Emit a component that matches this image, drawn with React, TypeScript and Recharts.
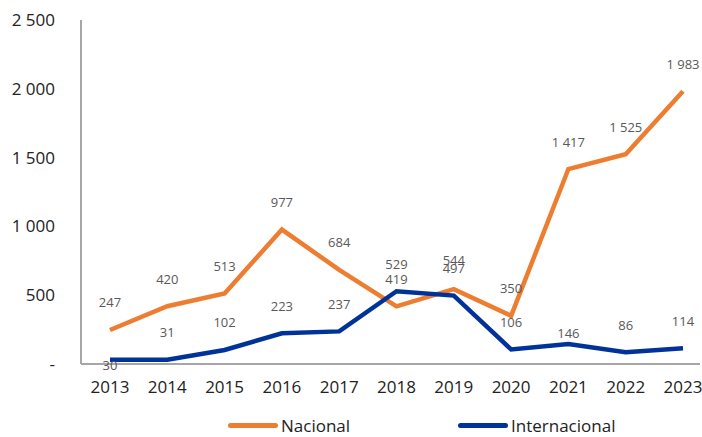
import { LineChart, Line, XAxis, YAxis, Legend, LabelList } from "recharts";

const years = ["2013", "2014", "2015", "2016", "2017", "2018", "2019", "2020", "2021", "2022", "2023"];
const nacional = [247, 420, 513, 977, 684, 419, 544, 350, 1417, 1525, 1983];
const internacional = [30, 31, 102, 223, 237, 529, 497, 106, 146, 86, 114];
const yTicks = [0, 500, 1000, 1500, 2000, 2500];

const data = years.map((year, i) => ({
  year,
  Nacional: nacional[i],
  Internacional: internacional[i],
}));

const ORANGE = "#ED7D31";
const BLUE = "#003399";
const FONT = "'Open Sans', 'Noto Sans', sans-serif";

const fmt = (v: number) => (v === 0 ? "-" : v.toLocaleString("en-US").replace(/,/g, " "));

// Excel-style labels sitting above points; a couple of the blue ones are shifted
const makeLabel = (series: "nac" | "int") => (props: any) => {
  const { x, y, value, index } = props;
  let dy = -26;
  if (series === "int" && index === 0) dy = 7;
  if (series === "int" && index === 8) dy = -9;
  if (series === "nac" && index === 6) dy = -28;
  return (
    <text
      x={x}
      y={y + dy}
      textAnchor="middle"
      dominantBaseline="middle"
      fontSize={13}
      fill="#595959"
      fontFamily={FONT}
    >
      {fmt(value)}
    </text>
  );
};

const renderLegend = () => (
  <div style={{ position: "relative", height: 40, fontFamily: FONT, fontSize: 17, color: "#222" }}>
    {[
      { name: "Nacional", color: ORANGE, left: 228 },
      { name: "Internacional", color: BLUE, left: 458 },
    ].map((it) => (
      <div
        key={it.name}
        style={{ position: "absolute", left: it.left, top: 20, display: "flex", alignItems: "center" }}
      >
        <span style={{ width: 50, height: 5, borderRadius: 3, background: it.color, marginRight: 3 }} />
        <span>{it.name}</span>
      </div>
    ))}
  </div>
);

export default function App() {
  return (
    <div style={{ position: "absolute", left: 0, top: 0, background: "#fff" }}>
      <LineChart width={702} height={437} data={data} margin={{ top: 20, right: 2, bottom: 3, left: 0 }}>
        <XAxis
          dataKey="year"
          height={30}
          padding={{ left: 29, right: 17 }}
          tickLine={false}
          axisLine={{ stroke: "#A6A6A6", strokeWidth: 2 }}
          tick={{ fontSize: 17, fill: "#222", fontFamily: FONT }}
          tickMargin={11}
        />
        <YAxis
          width={81}
          domain={[0, 2500]}
          ticks={yTicks}
          tickFormatter={fmt}
          tickLine={false}
          axisLine={{ stroke: "#A6A6A6", strokeWidth: 2 }}
          tick={{ fontSize: 17, fill: "#222", fontFamily: FONT }}
          tickMargin={20}
        />
        <Legend verticalAlign="bottom" height={40} content={renderLegend} />
        <Line
          type="linear"
          dataKey="Nacional"
          stroke={ORANGE}
          strokeWidth={4.5}
          dot={false}
          isAnimationActive={false}
        >
          <LabelList dataKey="Nacional" content={makeLabel("nac")} />
        </Line>
        <Line
          type="linear"
          dataKey="Internacional"
          stroke={BLUE}
          strokeWidth={4.5}
          dot={false}
          isAnimationActive={false}
        >
          <LabelList dataKey="Internacional" content={makeLabel("int")} />
        </Line>
      </LineChart>
    </div>
  );
}
